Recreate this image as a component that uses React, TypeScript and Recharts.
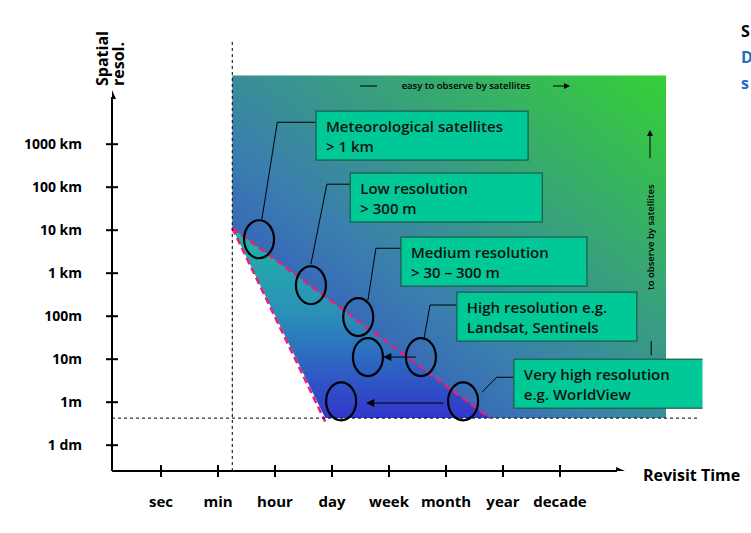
import {
  Area,
  ComposedChart,
  Line,
  ReferenceLine,
  Scatter,
  XAxis,
  YAxis,
} from 'recharts';

const timeLabels = ['sec', 'min', 'hour', 'day', 'week', 'month', 'year', 'decade'];
const resLabels = ['1 dm', '1m', '10m', '100m', '1 km', '10 km', '100 km', '1000 km'];
const timeTicks = [1, 2, 3, 4, 5, 6, 7, 8];
const resTicks = [1, 2, 3, 4, 5, 6, 7, 8];

// zones in (revisit index, resolution index)
const easyZone = [
  { x: 2.25, r: [1.63, 9.6] },
  { x: 9.86, r: [1.63, 9.6] },
];
const wedge = [
  { x: 2.25, r: [6.05, 6.05] },
  { x: 3.88, r: [1.63, 4.46] },
  { x: 6.77, r: [1.63, 1.63] },
];
const blocked = [
  { x: 2.25, y: 6.05 },
  { x: 3.88, y: 1.63 },
];
const upperLimit = [
  { x: 2.25, y: 6.05 },
  { x: 6.77, y: 1.63 },
];
const lowerLimit = [
  { x: 2.25, y: 6.05 },
  { x: 3.88, y: 1.55 },
];

const rings = [
  { x: 2.72, y: 5.79 },
  { x: 3.63, y: 4.72 },
  { x: 4.46, y: 3.98 },
  { x: 4.63, y: 3.05 },
  { x: 5.56, y: 3.05 },
  { x: 4.16, y: 2.02 },
  { x: 6.3, y: 2.02 },
];

const boxes = [
  { x: 3.72, y: 8.77, lines: ['Meteorological satellites', '> 1 km'] },
  { x: 4.32, y: 7.33, lines: ['Low resolution', '> 300 m'] },
  { x: 5.21, y: 5.84, lines: ['Medium resolution', '> 30 – 300 m'] },
  { x: 6.19, y: 4.56, lines: ['High resolution e.g.', 'Landsat, Sentinels'] },
  { x: 7.19, y: 3.0, lines: ['Very high resolution', 'e.g. WorldView'] },
];
const boxWidths = [212, 192, 186, 180, 204];

const leaders = [
  [{ x: 3.72, y: 8.51 }, { x: 3.04, y: 8.51 }, { x: 2.77, y: 6.26 }],
  [{ x: 4.32, y: 7.07 }, { x: 3.91, y: 7.07 }, { x: 3.63, y: 5.21 }],
  [{ x: 5.21, y: 5.58 }, { x: 4.77, y: 5.58 }, { x: 4.63, y: 4.37 }],
  [{ x: 6.19, y: 4.26 }, { x: 5.72, y: 4.26 }, { x: 5.61, y: 3.44 }],
  [{ x: 7.19, y: 2.58 }, { x: 6.89, y: 2.58 }, { x: 6.63, y: 2.23 }],
  [{ x: 9.6, y: 3.42 }, { x: 9.6, y: 3.09 }],
  [{ x: 5.47, y: 3.05 }, { x: 4.92, y: 3.05 }],
  [{ x: 5.96, y: 1.98 }, { x: 4.62, y: 1.98 }],
];
const heads = [
  { x: 4.9, y: 3.05, dir: 'left' },
  { x: 4.6, y: 1.98, dir: 'left' },
  { x: 0.14, y: 9.26, dir: 'up' },
  { x: 9.14, y: 0.4, dir: 'right' },
];

const FONT = '"Liberation Sans Narrow", "Open Sans", sans-serif';

function TimeTick({ x, y, payload }: any) {
  return (
    <g>
      <line x1={x} x2={x} y1={y - 6} y2={y + 6} stroke="#000" strokeWidth={2} />
      <text x={x} y={y + 36} textAnchor="middle" fontSize={15} fontWeight={700} fontFamily={FONT}>
        {timeLabels[payload.value - 1]}
      </text>
    </g>
  );
}

function ResTick({ x, y, payload }: any) {
  return (
    <g>
      <line x1={x - 6} x2={x + 6} y1={y} y2={y} stroke="#000" strokeWidth={2} />
      <text x={x - 30} y={y + 5} textAnchor="end" fontSize={14} fontWeight={700} fontFamily={FONT}>
        {resLabels[payload.value - 1]}
      </text>
    </g>
  );
}

function Ring({ cx, cy }: any) {
  return <ellipse cx={cx} cy={cy} rx={15} ry={19} fill="none" stroke="#000" strokeWidth={2.2} />;
}

function Box({ cx, cy, payload, index }: any) {
  return (
    <g>
      <rect x={cx} y={cy} width={boxWidths[index]} height={49} fill="#00c896" stroke="#1c5a4a" strokeWidth={1.2} />
      {payload.lines.map((t: string, i: number) => (
        <text key={i} x={cx + 10} y={cy + 21 + i * 20} fontSize={15} fontWeight={600} fill="#111" fontFamily={FONT}>
          {t}
        </text>
      ))}
    </g>
  );
}

function Head({ cx, cy, payload }: any) {
  const d =
    payload.dir === 'left'
      ? `M${cx},${cy} l8,-4 l0,8 z`
      : payload.dir === 'up'
        ? `M${cx},${cy} l-4,9 l8,0 z`
        : `M${cx},${cy} l-9,-4 l0,8 z`;
  return <path d={d} fill="#000" />;
}

function Overlay() {
  return (
    <svg width={751} height={533} style={{ position: 'absolute', left: 0, top: 0, pointerEvents: 'none' }}>
      <g fontFamily={FONT}>
        <g transform="translate(108,86) rotate(-90)" fontWeight={700} fontSize={16}>
          <text x={0} y={0}>Spatial</text>
          <text x={0} y={16}>resol.</text>
        </g>
        <text x={643} y={481} fontSize={16} fontWeight={700}>Revisit Time</text>
        <line x1={360} x2={377} y1={86} y2={86} stroke="#000" />
        <text x={466} y={89} textAnchor="middle" fontSize={9.5} fontWeight={600}>easy to observe by satellites</text>
        <line x1={553} x2={566} y1={86} y2={86} stroke="#000" />
        <path d="M570,86 l-6,-3 l0,6 z" />
        <line x1={650} x2={650} y1={136} y2={158} stroke="#000" />
        <path d="M650,130 l-3,6 l6,0 z" />
        <text transform="translate(654,290) rotate(-90)" fontSize={9.5} fontWeight={600}>to observe by satellites</text>
        <text x={741} y={37} fontSize={16} fontWeight={700}>S</text>
        <text x={741} y={63} fontSize={16} fontWeight={700} fill="#1a6fc0">D</text>
        <text x={741} y={89} fontSize={16} fontWeight={700} fill="#1a6fc0">s</text>
      </g>
    </svg>
  );
}

export default function App() {
  return (
    <div style={{ position: 'absolute', left: 0, top: 0, width: 751, height: 533, background: '#fff' }}>
      <ComposedChart width={751} height={533} margin={{ top: 36.7, right: 48.5, bottom: 12, left: 62 }}>
        <defs>
          <linearGradient id="easy" x1="0" y1="1" x2="1" y2="0">
            <stop offset="0%" stopColor="#3438cf" />
            <stop offset="40%" stopColor="#3a7fae" />
            <stop offset="100%" stopColor="#35d035" />
          </linearGradient>
          <linearGradient id="wedge" x1="0" y1="0" x2="0" y2="1">
            <stop offset="0%" stopColor="#1fb5a5" />
            <stop offset="45%" stopColor="#2a90b8" />
            <stop offset="100%" stopColor="#3236cc" />
          </linearGradient>
        </defs>
        <XAxis dataKey="x" type="number" domain={[0.14, 10.5]} ticks={timeTicks} allowDataOverflow
          axisLine={false} tickLine={false} tickSize={0} tickMargin={0} height={50} tick={<TimeTick />} />
        <YAxis type="number" domain={[0.4, 10.5]} ticks={resTicks} allowDataOverflow
          axisLine={false} tickLine={false} tickSize={0} tickMargin={0} width={50} tick={<ResTick />} />
        <Area data={easyZone} dataKey="r" type="linear" fill="url(#easy)" fillOpacity={1} stroke="none" isAnimationActive={false} />
        <Area data={wedge} dataKey="r" type="linear" fill="url(#wedge)" fillOpacity={1} stroke="none" isAnimationActive={false} />
        <Area data={blocked} dataKey="y" type="linear" fill="#fff" fillOpacity={1} stroke="none" isAnimationActive={false} />
        <Line data={upperLimit} dataKey="y" type="linear" stroke="#e8207a" strokeWidth={2.5} strokeDasharray="7 4" dot={false} isAnimationActive={false} />
        <Line data={lowerLimit} dataKey="y" type="linear" stroke="#e8207a" strokeWidth={2.5} strokeDasharray="7 4" dot={false} isAnimationActive={false} />
        {leaders.map((pts, i) => (
          <Line key={i} data={pts} dataKey="y" type="linear" stroke="#000" strokeWidth={1} dot={false} isAnimationActive={false} />
        ))}
        <ReferenceLine segment={[{ x: 2.25, y: 0.4 }, { x: 2.25, y: 10.4 }]} stroke="#000" strokeDasharray="3 3" />
        <ReferenceLine segment={[{ x: 0.14, y: 1.63 }, { x: 10.45, y: 1.63 }]} stroke="#000" strokeDasharray="3 3" />
        <ReferenceLine segment={[{ x: 0.14, y: 0.4 }, { x: 9.0, y: 0.4 }]} stroke="#000" strokeWidth={2} />
        <ReferenceLine segment={[{ x: 0.14, y: 0.4 }, { x: 0.14, y: 9.1 }]} stroke="#000" strokeWidth={2} />
        <Scatter data={rings} dataKey="y" shape={<Ring />} isAnimationActive={false} />
        <Scatter data={boxes} dataKey="y" shape={<Box />} isAnimationActive={false} />
        <Scatter data={heads} dataKey="y" shape={<Head />} isAnimationActive={false} />
      </ComposedChart>
      <Overlay />
    </div>
  );
}
